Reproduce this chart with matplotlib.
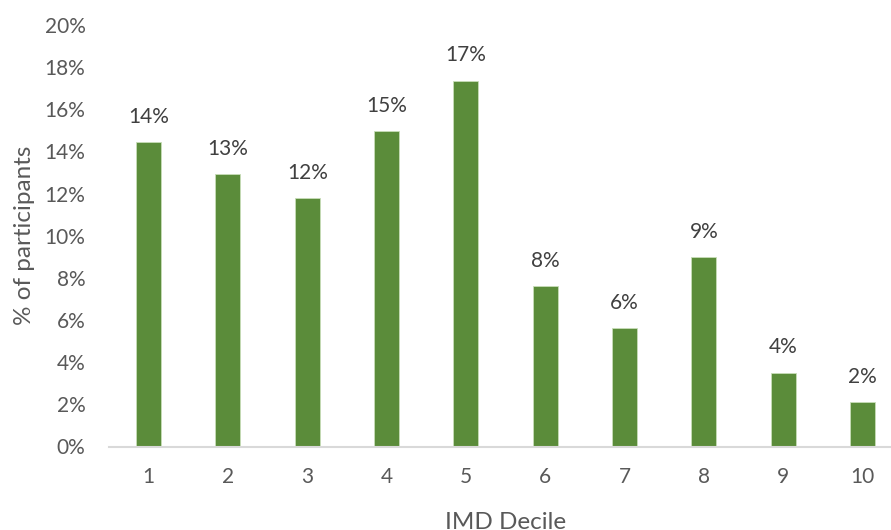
import matplotlib
matplotlib.use("Agg")
import matplotlib.pyplot as plt
from matplotlib.ticker import PercentFormatter, MultipleLocator

deciles = ["1", "2", "3", "4", "5", "6", "7", "8", "9", "10"]
share = [0.1445, 0.1293, 0.1178, 0.1498, 0.1736, 0.0760, 0.0560, 0.0900, 0.0350, 0.0210]

plt.rcParams["font.family"] = ["Lato", "DejaVu Sans"]

fig = plt.figure(figsize=(8.91, 5.30), dpi=100)
ax = fig.add_axes([109 / 891, 83.5 / 530, 793 / 891, 421.5 / 530])

bar_color = "#5B8C3A"
x = range(len(deciles))
ax.bar(x, share, width=0.315, color=bar_color, edgecolor="#C8DDB8", linewidth=0.6)

for xi, v in zip(x, share):
    ax.annotate(f"{v * 100:.0f}%", (xi, v), xytext=(0, 11), textcoords="offset points",
                ha="center", va="bottom", fontsize=15, color="#404040")

ax.set_xlim(-0.5, len(deciles) - 0.5)
ax.set_ylim(0, 0.20)
ax.yaxis.set_major_locator(MultipleLocator(0.02))
ax.yaxis.set_major_formatter(PercentFormatter(1.0, decimals=0))
ax.set_xticks(list(x))
ax.set_xticklabels(deciles)

for side in ("top", "right", "left"):
    ax.spines[side].set_visible(False)
ax.spines["bottom"].set_color("#D9D9D9")
ax.spines["bottom"].set_linewidth(1.5)

ax.tick_params(axis="both", length=0, labelsize=15, labelcolor="#595959")
ax.tick_params(axis="y", pad=17)
ax.tick_params(axis="x", pad=15)

ax.set_ylabel("% of participants", fontsize=17.5, color="#595959", labelpad=7)
ax.set_xlabel("IMD Decile", fontsize=17.5, color="#595959", labelpad=18)

fig.savefig("out.png", dpi=100)
